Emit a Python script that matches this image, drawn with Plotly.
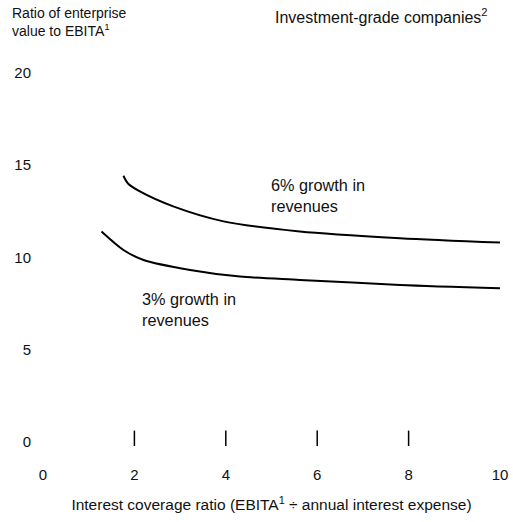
import plotly.graph_objects as go

# Data
coverage_6 = [1.76, 1.86, 2.12, 2.85, 3.95, 5.62, 7.81, 10.0]
ev_ebita_6 = [14.42, 14.0, 13.57, 12.76, 11.95, 11.4, 11.04, 10.8]
coverage_3 = [1.28, 1.76, 2.2, 3.22, 4.31, 5.62, 7.81, 10.0]
ev_ebita_3 = [11.4, 10.4, 9.86, 9.32, 8.96, 8.78, 8.51, 8.33]
x_ticks = [0, 2, 4, 6, 8, 10]
y_ticks = [0, 5, 10, 15, 20]
tick_marks = [2, 4, 6, 8]

FONT = "Liberation Sans, Arial, sans-serif"

# pixel geometry of the plot area
W, H = 513, 522
PL, PR, PT, PB = 42.7, 500.0, 60.0, 460.0


def px(x):
    return (x - PL) / (PR - PL)


def py(y):
    return (PB - y) / (PB - PT)


fig = go.Figure()
fig.add_trace(go.Scatter(x=coverage_6, y=ev_ebita_6, mode="lines",
                         line=dict(color="black", width=2, shape="spline", smoothing=0.8),
                         hoverinfo="skip"))
fig.add_trace(go.Scatter(x=coverage_3, y=ev_ebita_3, mode="lines",
                         line=dict(color="black", width=2, shape="spline", smoothing=0.8),
                         hoverinfo="skip"))
fig.add_trace(go.Scatter(x=tick_marks, y=[0.2] * len(tick_marks), mode="markers",
                         marker=dict(symbol="line-ns", size=11, line=dict(color="black", width=1.5)),
                         hoverinfo="skip"))


def ann(text, x, y, size):
    return dict(text=text, xref="paper", yref="paper", x=px(x), y=py(y),
                xanchor="left", yanchor="middle", align="left", showarrow=False,
                font=dict(size=size))


annotations = [
    ann("Ratio of enterprise<br>value to EBITA<sup>1</sup>", 10, 22, 14),
    ann("Investment-grade companies<sup>2</sup>", 273, 16, 16),
    ann("6% growth in<br>revenues", 269, 195, 16.3),
    ann("3% growth in<br>revenues", 140, 309, 16.3),
]

fig.update_layout(
    width=W, height=H,
    margin=dict(l=PL, r=W - PR, t=PT, b=H - PB),
    paper_bgcolor="white", plot_bgcolor="white",
    showlegend=False,
    font=dict(family=FONT, size=15, color="#111"),
    xaxis=dict(range=[0, 10], tickvals=x_ticks, ticks="", showgrid=False, zeroline=False,
               showline=False, ticklabelstandoff=4, automargin=False,
               title=dict(text="Interest coverage ratio (EBITA<sup>1</sup> ÷ annual interest expense)",
                          standoff=17, font=dict(size=15.5))),
    yaxis=dict(range=[-0.975, 20.69], tickvals=y_ticks, ticks="", showgrid=False, zeroline=False,
               showline=False, ticklabelstandoff=11, automargin=False),
    annotations=annotations,
)

fig.write_html("out.html", config={"displayModeBar": False},
               post_script="document.body.style.margin='0';")
